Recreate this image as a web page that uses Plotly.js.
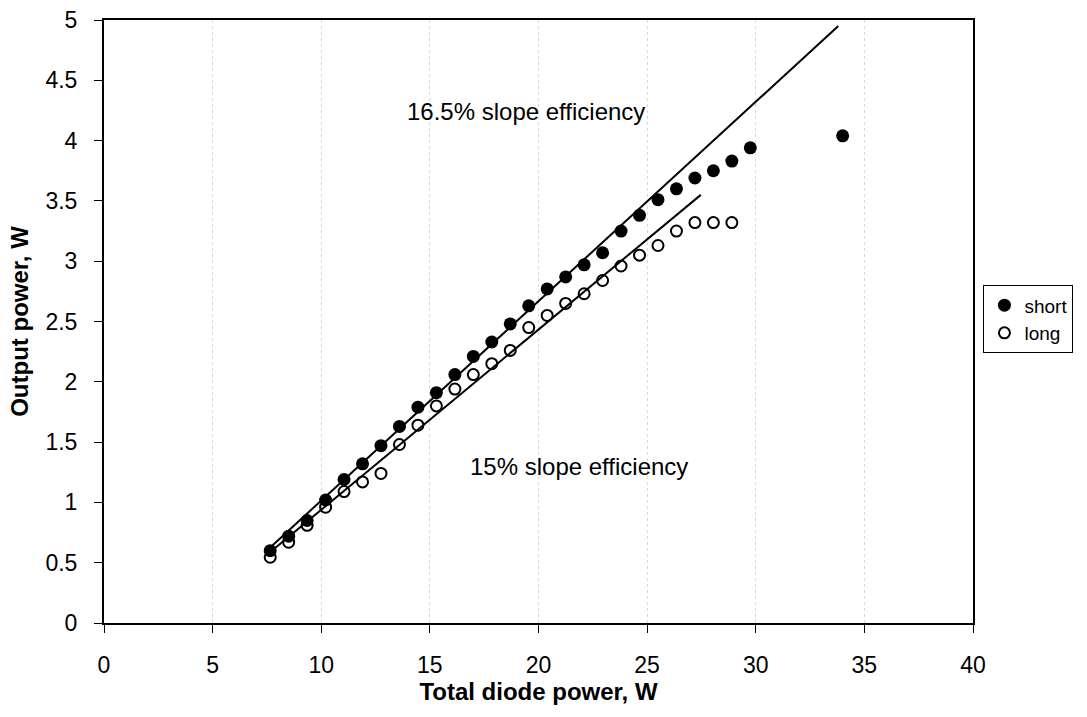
<!DOCTYPE html>
<html>
<head>
<meta charset="utf-8">
<script src="https://cdn.plot.ly/plotly-3.0.1.min.js"></script>
<style>html,body{margin:0;padding:0;background:#fff;}#chart{width:1087px;height:717px;}</style>
</head>
<body>
<div id="chart"></div>
<script>
// Total diode power (W)
const diodePower = [7.65, 8.5, 9.35, 10.2, 11.05, 11.9, 12.75, 13.6, 14.45, 15.3, 16.15, 17.0, 17.85, 18.7, 19.55, 20.4, 21.25, 22.1, 22.95, 23.8, 24.65, 25.5, 26.35, 27.2, 28.05, 28.9, 29.75, 34.0];
// Output power, short crystal (W)
const shortPower = [0.60, 0.72, 0.85, 1.02, 1.19, 1.32, 1.47, 1.63, 1.79, 1.91, 2.06, 2.21, 2.33, 2.48, 2.63, 2.77, 2.87, 2.97, 3.07, 3.25, 3.38, 3.51, 3.60, 3.69, 3.75, 3.83, 3.94, 4.04];
// Output power, long crystal (W) – same diode powers, first 26 points
const longX = diodePower.slice(0, 26);
const longPower = [0.545, 0.67, 0.81, 0.96, 1.09, 1.17, 1.24, 1.48, 1.64, 1.80, 1.94, 2.06, 2.15, 2.26, 2.45, 2.55, 2.65, 2.73, 2.84, 2.96, 3.05, 3.13, 3.25, 3.32, 3.32, 3.32];
// Slope-efficiency fit lines (end points)
const fit165X = [7.55, 33.8];
const fit165Y = [0.61, 4.95];
const fit15X = [7.6, 27.47];
const fit15Y = [0.58, 3.55];
// Labels
const labels = ["16.5% slope efficiency", "15% slope efficiency"];
const labelX = [19.42, 21.86];
const labelY = [4.24, 1.30];

const font = "Arial, 'Liberation Sans', Helvetica, sans-serif";

const traces = [
  {x: fit165X, y: fit165Y, mode: 'lines', line: {color: '#000', width: 2}, showlegend: false, hoverinfo: 'skip'},
  {x: fit15X, y: fit15Y, mode: 'lines', line: {color: '#000', width: 2}, showlegend: false, hoverinfo: 'skip'},
  {x: diodePower, y: shortPower, mode: 'markers', name: 'short',
   marker: {symbol: 'circle', size: 13, color: '#000'}},
  {x: longX, y: longPower, mode: 'markers', name: 'long',
   marker: {symbol: 'circle-open', size: 11, color: '#000', line: {width: 2, color: '#000'}}}
];

const layout = {
  width: 1087, height: 717,
  paper_bgcolor: '#fff', plot_bgcolor: '#fff',
  margin: {l: 104, r: 114, t: 20, b: 94, autoexpand: false},
  font: {family: font, color: '#000', size: 23},
  showlegend: true,
  legend: {x: 1.012, xanchor: 'left', y: 0.56, yanchor: 'top',
    bordercolor: '#000', borderwidth: 1, bgcolor: '#fff',
    font: {family: font, size: 19, color: '#000'}, tracegroupgap: 0, itemwidth: 30},
  xaxis: {
    range: [0, 40], tickvals: [0,5,10,15,20,25,30,35,40],
    showline: true, linecolor: '#000', linewidth: 2, mirror: true,
    ticks: 'outside', ticklen: 8, tickwidth: 1, tickcolor: '#000',
    ticklabelstandoff: 12,
    showgrid: true, gridcolor: '#d9d9d9', griddash: 'dot', gridwidth: 1,
    zeroline: false,
    tickfont: {family: font, size: 23, color: '#000'},
    title: {text: '<b>Total diode power, W</b>', font: {family: font, size: 24, color: '#000'}, standoff: 6}
  },
  yaxis: {
    range: [0, 5], tickvals: [0,0.5,1,1.5,2,2.5,3,3.5,4,4.5,5],
    ticktext: ['0','0.5','1','1.5','2','2.5','3','3.5','4','4.5','5'],
    showline: true, linecolor: '#000', linewidth: 2, mirror: true,
    ticks: 'outside', ticklen: 8, tickwidth: 1, tickcolor: '#000',
    ticklabelstandoff: 12,
    showgrid: false, zeroline: false,
    tickfont: {family: font, size: 23, color: '#000'},
    title: {text: '<b>Output power, W</b>', font: {family: font, size: 24, color: '#000'}, standoff: 10}
  },
  annotations: labels.map((t, i) => ({
    x: labelX[i], y: labelY[i], xref: 'x', yref: 'y', text: t, showarrow: false,
    font: {family: font, size: 24, color: '#000'}
  }))
};

Plotly.newPlot('chart', traces, layout, {displayModeBar: false, staticPlot: true});
</script>
</body>
</html>
